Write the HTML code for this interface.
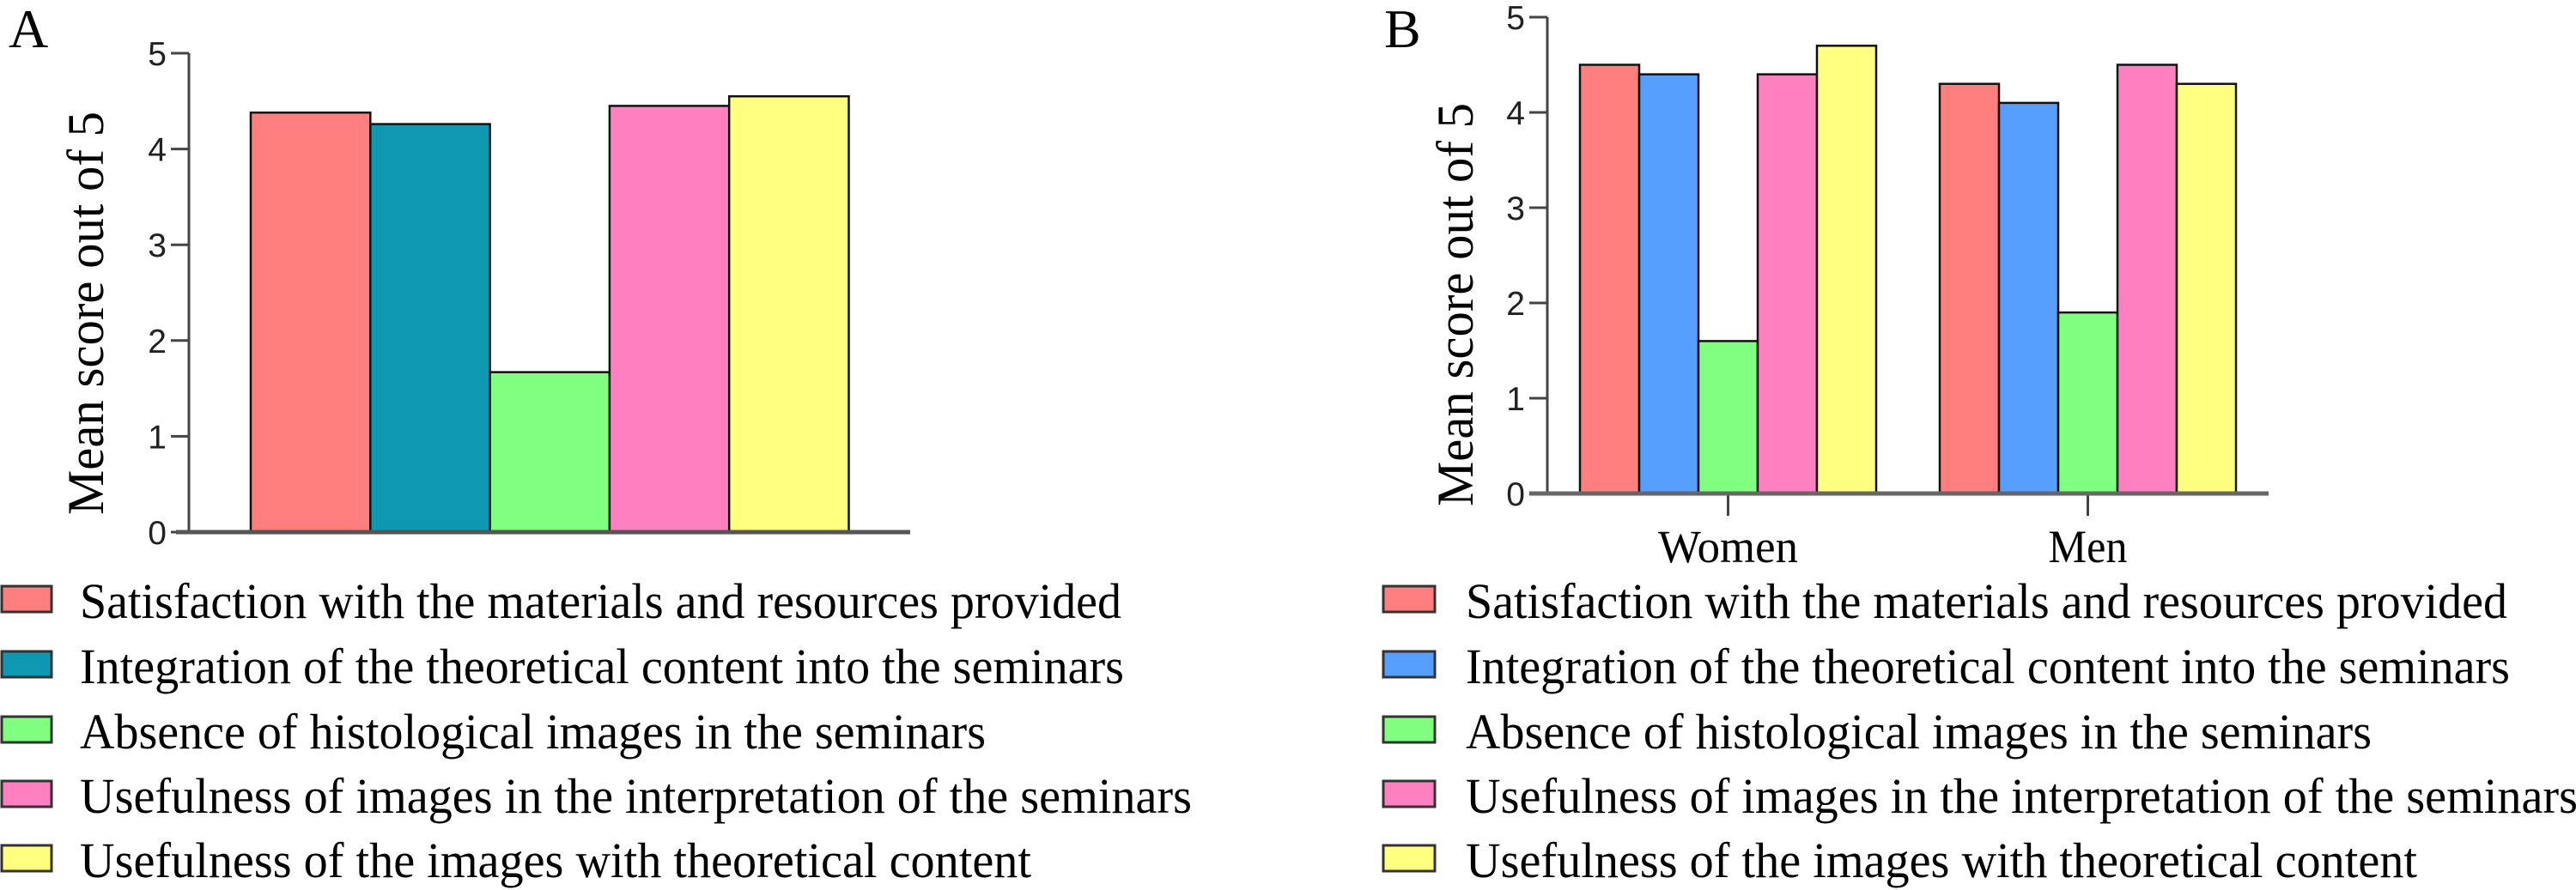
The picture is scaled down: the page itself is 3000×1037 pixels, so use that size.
<!DOCTYPE html>
<html><head><meta charset="utf-8"><style>
html,body{margin:0;padding:0;background:#fff;}
svg{display:block;}
</style></head><body>
<svg id="fig" xmlns="http://www.w3.org/2000/svg" width="3000" height="1037" viewBox="0 0 3000 1037">
<text x="10" y="55" font-family="Liberation Serif, serif" font-size="64">A</text>
<text x="1612" y="55" font-family="Liberation Serif, serif" font-size="64">B</text>
<g id="chartA"></g>
<g id="chartB"></g>
<g id="legA"></g>
<g id="legB"></g>
</svg>
<script>
const seriesNames = ["Satisfaction with the materials and resources provided","Integration of the theoretical content into the seminars","Absence of histological images in the seminars","Usefulness of images in the interpretation of the seminars","Usefulness of the images with theoretical content"];
const valuesA = [4.38, 4.26, 1.67, 4.45, 4.55];
const categoriesB = ["Women", "Men"];
const womenValues = [4.5, 4.4, 1.6, 4.4, 4.7];
const menValues = [4.3, 4.1, 1.9, 4.5, 4.3];
const yTicks = [0, 1, 2, 3, 4, 5];
const colorsA = ["#FF7F7F","#0E98B2","#80FF80","#FF80C0","#FFFF80"];
const colorsB = ["#FF7F7F","#569FFF","#80FF80","#FF80C0","#FFFF80"];

const NS = "http://www.w3.org/2000/svg";
function mk(tag, attrs, parent){const e=document.createElementNS(NS,tag);for(const k in attrs)e.setAttribute(k,attrs[k]);parent.appendChild(e);return e;}

function axis(g, ax, y0, y5, xStart, xEnd, titleX, titleCY, tickTextX){
  const ys = v => y0 + (y5 - y0) * v / 5;
  const yl = mk('line',{x1:ax,y1:y5,x2:ax,y2:y0,stroke:'#444','stroke-width':3},g);
  
  
  yTicks.forEach(t=>{
    const tl = mk('line',{x1:ax-21,y1:ys(t),x2:ax,y2:ys(t),stroke:'#444','stroke-width':3},g);
    
    
    const tt = mk('text',{x:tickTextX,y:ys(t)+14,'text-anchor':'end','font-family':'Liberation Sans, sans-serif','font-size':39,fill:'#222'},g);
    tt.textContent = t;
    
    
  });
  const title = mk('text',{x:0,y:0,'text-anchor':'middle','font-family':'Liberation Serif, serif','font-size':60,textLength:470,lengthAdjust:'spacingAndGlyphs',transform:`translate(${titleX},${titleCY}) rotate(-90)`},g);
  title.textContent = 'Mean score out of 5';
  
  
  return ys;
}

// Chart A
(function(){
  const g = document.getElementById('chartA');
  const y0=620, y5=62;
  const ys = axis(g, 220, y0, y5, 0, 0, 120, 365, 194);
  const bx0 = 292, bw = 139.3;
  valuesA.forEach((v,i)=>{
    const r = mk('rect',{x:bx0+i*bw,y:ys(v),width:bw,height:y0-ys(v),fill:colorsA[i],stroke:'#111','stroke-width':2.5},g);
    
    
  });
  const bl = mk('line',{x1:205,y1:y0,x2:1060,y2:y0,stroke:'#555','stroke-width':5},g);
  
  
})();

// Chart B
(function(){
  const g = document.getElementById('chartB');
  const y0=575, y5=20;
  const ys = axis(g, 1802, y0, y5, 0, 0, 1715, 355, 1776);
  const groupStart = [1840, 2259], bw = 69;
  const data = [womenValues, menValues];
  data.forEach((vals,gi)=>{
    vals.forEach((v,i)=>{
      const r = mk('rect',{x:groupStart[gi]+i*bw,y:ys(v),width:bw,height:y0-ys(v),fill:colorsB[i],stroke:'#111','stroke-width':2.5},g);
      
      
    });
    const cx = groupStart[gi] + 2.5*bw;
    const tk = mk('line',{x1:cx,y1:y0,x2:cx,y2:601,stroke:'#444','stroke-width':3},g);
    
    
    const lb = mk('text',{x:cx,y:655,'text-anchor':'middle','font-family':'Liberation Serif, serif','font-size':54,textLength:gi===0?163:92,lengthAdjust:'spacingAndGlyphs'},g);
    lb.textContent = categoriesB[gi];
    
    
  });
  const bl = mk('line',{x1:1781,y1:y0,x2:2642,y2:y0,stroke:'#666','stroke-width':5},g);
  
  
})();

// Legends
const rowY = [698, 774, 850, 925, 1000];
const lensA = [1213, 1216, 1055, 1295, 1108];
function legend(id, colors, swX, swW, txX){
  const g = document.getElementById(id);
  seriesNames.forEach((n,i)=>{
    const sw = mk('rect',{x:swX,y:rowY[i]-15,width:swW,height:30,fill:colors[i],stroke:'#333','stroke-width':3},g);
    
    
    const t = mk('text',{x:txX,y:rowY[i]+22,'font-family':'Liberation Serif, serif','font-size':58,textLength:lensA[i],lengthAdjust:'spacingAndGlyphs'},g);
    t.textContent = n;
    
    
  });
}
legend('legA', colorsA, 2, 58, 93);
legend('legB', colorsB, 1611, 60, 1707);
</script>
</body></html>
